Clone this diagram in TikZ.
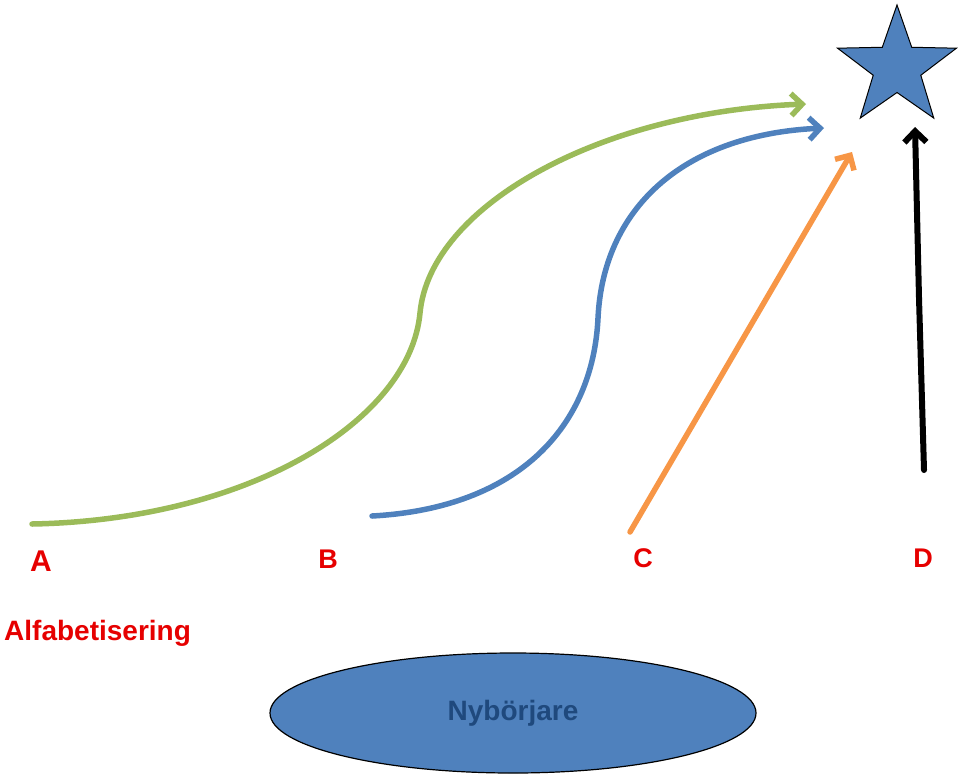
\documentclass[tikz,border=0pt]{standalone}
\usepackage{fontspec}
\setmainfont{Liberation Sans}
\usetikzlibrary{arrows.meta,shapes.geometric}
\definecolor{goalblue}{RGB}{79,129,189}
\definecolor{textblue}{RGB}{31,73,125}
\definecolor{pathgreen}{RGB}{155,187,89}
\definecolor{pathorange}{RGB}{247,150,70}
\definecolor{labelred}{RGB}{230,0,0}
\begin{document}
\begin{tikzpicture}[
		x=1pt, y=-1pt,
		route/.style={line width=5.5pt, line cap=round, -{Straight Barb[length=11pt,width=22pt,line width=5.5pt]}},
		label/.style={text=labelred, font=\bfseries\fontsize{27}{27}\selectfont, inner sep=0},
	]
		\useasboundingbox (0,0) rectangle (960,774);
		% goal and base
		\node (goal) [star, star points=5, star point ratio=2.5, minimum size=125pt, inner sep=0, fill=goalblue, draw=black, line width=1pt] at (897,67.5) {};
		\node (base) [ellipse, minimum width=486pt, minimum height=120pt, inner sep=0, fill=goalblue, draw=black, line width=1.2pt,
			text=textblue, font=\bfseries\fontsize{28}{28}\selectfont] at (513,713) {Nybörjare};
		% labels
		\node (labA) [label, font=\bfseries\fontsize{30}{30}\selectfont] at (41,561) {A};
		\node (labB) [label] at (328,559) {B};
		\node (labC) [label] at (643,558.5) {C};
		\node (labD) [label] at (923,558.5) {D};
		\node (alfa) [label, font=\bfseries\fontsize{28}{28}\selectfont, anchor=base west] at (4,640) {Alfabetisering};
		% start and end points
		\coordinate (startA) at (32,524);
		\coordinate (endA) at (806,104);
		\coordinate (startB) at (372,516);
		\coordinate (endB) at (824,128);
		\coordinate (startC) at (630,532);
		\coordinate (endC) at (852,152);
		\coordinate (startD) at (924,470);
		\coordinate (endD) at (915,127);
		% routes
		\draw[route, pathgreen] (startA) .. controls (250,520) and (410,420) .. (420,313) .. controls (430,206) and (600,112) .. (endA);
		\draw[route, goalblue] (startB) .. controls (520,508) and (593,425) .. (598,318) .. controls (603,211) and (680,135) .. (endB);
		\draw[route, pathorange] (startC) -- (endC);
		\draw[route, black, line width=6pt, -{Straight Barb[length=11pt,width=22pt,line width=6pt]}] (startD) -- (919,298) -- (endD);
	\end{tikzpicture}
\end{document}
